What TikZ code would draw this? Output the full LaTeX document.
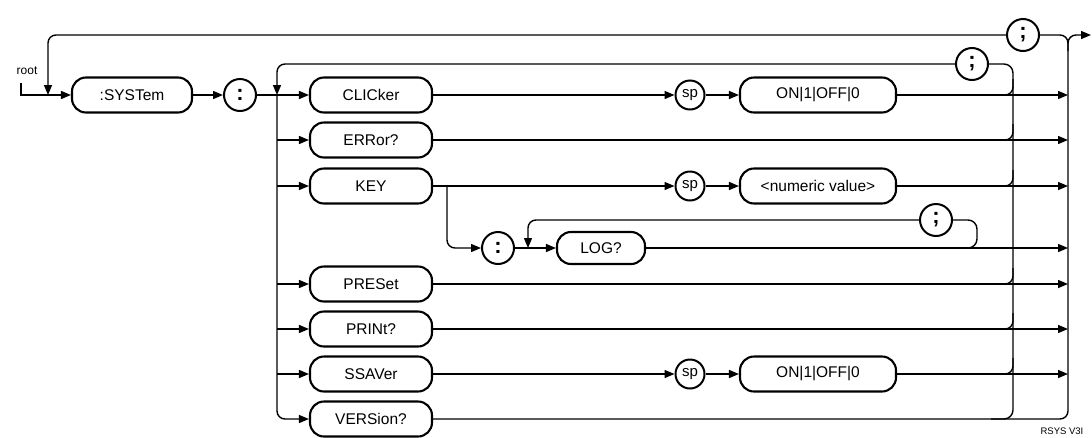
\documentclass[tikz,border=0pt]{standalone}
\usepackage{fontspec}
\setmainfont{Liberation Sans}
\usetikzlibrary{arrows.meta}
\tikzset{
  kw/.style={draw=black,line width=2.1pt,rounded corners=14pt,minimum width=122pt,minimum height=35pt,inner sep=0pt,
    font=\fontsize{15.5}{17}\selectfont},
  sym/.style={circle,draw=black,line width=2pt,minimum size=32pt,inner sep=0pt,font=\fontsize{22}{24}\selectfont\bfseries},
  spc/.style={circle,draw=black,line width=2pt,minimum size=29pt,inner sep=0pt,font=\fontsize{15}{17}\selectfont},
}
\tikzset{ln/.style={draw=black,line width=1.4pt}, arr/.style={ln,-{Triangle[length=10pt,width=8pt]}}, tap/.style={ln,rounded corners=8pt}}

\begin{document}
\begin{tikzpicture}[x=1pt,y=-1pt]
\useasboundingbox (0,0) rectangle (1092,437);
% bus points
\coordinate (rt) at (21,83);\coordinate (tl) at (48,35);\coordinate (bl) at (277,64);
\coordinate (bi) at (1013,64);\coordinate (bo) at (1068,35);\coordinate (ex) at (1091,35);
\coordinate (kb) at (447,186);\coordinate (lb) at (528,220);\coordinate (lr) at (977,220);
\node[font=\fontsize{12}{13}\selectfont](root) at (27,71){root};
\node[font=\fontsize{9.5}{11}\selectfont](tag) at (1062,431){RSYS V3I};
\node[kw,minimum width=120pt](sys) at (132,95){:SYSTem};\node[sym](c1) at (240,95){:};
\node[kw](clk) at (371,95){CLICker};\node[kw](err) at (371,140){ERRor?};
\node[kw](key) at (371,186){KEY};\node[kw](pre) at (371,284){PRESet};
\node[kw](prt) at (371,329){PRINt?};\node[kw](ssv) at (371,374){SSAVer};
\node[kw](ver) at (371,419){VERSion?};
\node[spc](sp1) at (690,95){sp};\node[kw,minimum width=156pt](v1) at (818,95){ON|1|OFF|0};
\node[spc](sp2) at (690,186){sp};\node[kw,minimum width=156pt](v2) at (818,186){<numeric value>};
\node[spc](sp3) at (690,374){sp};\node[kw,minimum width=156pt](v3) at (818,374){ON|1|OFF|0};
\node[sym](c2) at (498,248){:};\node[kw,minimum width=88pt,minimum height=32pt](log) at (601,248){LOG?};
\node[sym](s1) at (1023,35){;};\node[sym](s2) at (972,64){;};\node[sym](s3) at (936,220){;};
% entry and outer loop
\draw[arr](rt) |- (sys.west);\draw[arr,rounded corners=8pt](s1.west) -| (sys.west -| tl);
\draw[arr](sys)--(c1);\draw[arr](c1)--(clk);
\draw[ln,rounded corners=8pt](ver.east) -| (bo) -- (s1.east);\draw[arr,rounded corners=8pt](bo) ++(0,16) |- (ex);
% left bus
\draw[arr,rounded corners=8pt](s2.west) -| (clk.west -| bl);\draw[arr,rounded corners=8pt](clk.west -| bl) |- (ver.west);
\draw[arr](err.west -| bl)--(err.west);\draw[arr](key.west -| bl)--(key.west);\draw[arr](pre.west -| bl)--(pre.west);
\draw[arr](prt.west -| bl)--(prt.west);\draw[arr](ssv.west -| bl)--(ssv.west);
% rows
\draw[arr](clk)--(sp1);\draw[arr](sp1)--(v1);\draw[arr](v1)--(v1 -| bo);
\draw[arr](err)--(err -| bo);
\draw[arr](key)--(sp2);\draw[arr](sp2)--(v2);\draw[arr](v2)--(v2 -| bo);
\draw[arr,rounded corners=8pt](key -| kb) |- (c2.west);\draw[arr](c2)--(log);\draw[arr](log)--(log -| bo);
\draw[arr,rounded corners=8pt](s3.west) -| (log.west -| lb);\draw[ln,rounded corners=9pt](s3.east) -| (log.east -| lr) -- ++(-22,0);
\draw[arr](pre)--(pre -| bo);\draw[arr](prt)--(prt -| bo);
\draw[arr](ssv)--(sp3);\draw[arr](sp3)--(v3);\draw[arr](v3)--(v3 -| bo);
% inner loop bus
\draw[ln,rounded corners=9pt](s2.east) -| (ver.east -| bi) -- ++(-22,0);
\draw[tap](clk -| bi) ++(-20,0) -| ++(20,-16);\draw[tap](err -| bi) ++(-20,0) -| ++(20,-16);
\draw[tap](key -| bi) ++(-20,0) -| ++(20,-16);\draw[tap](pre -| bi) ++(-20,0) -| ++(20,-16);
\draw[tap](prt -| bi) ++(-20,0) -| ++(20,-16);\draw[tap](ssv -| bi) ++(-20,0) -| ++(20,-16);
\end{tikzpicture}
\end{document}
